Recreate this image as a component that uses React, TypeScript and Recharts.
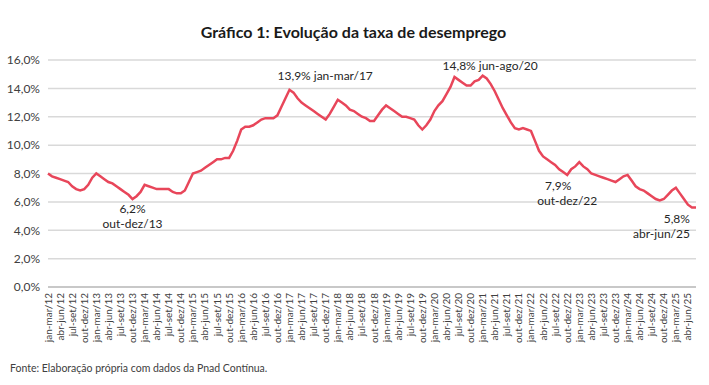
import React from 'react';
import { LineChart, Line, XAxis, YAxis, CartesianGrid } from 'recharts';

// Taxa de desocupação (trimestres móveis), %
const rate2012 = [8.0, 7.8, 7.7, 7.6, 7.5, 7.4, 7.1, 6.9, 6.8, 6.9, 7.2, 7.7];
const rate2013 = [8.0, 7.8, 7.6, 7.4, 7.3, 7.1, 6.9, 6.7, 6.5, 6.2, 6.4, 6.7];
const rate2014 = [7.2, 7.1, 7.0, 6.9, 6.9, 6.9, 6.9, 6.7, 6.6, 6.6, 6.8, 7.4];
const rate2015 = [8.0, 8.1, 8.2, 8.4, 8.6, 8.8, 9.0, 9.0, 9.1, 9.1, 9.6, 10.3];
const rate2016 = [11.1, 11.3, 11.3, 11.4, 11.6, 11.8, 11.9, 11.9, 11.9, 12.1, 12.7, 13.3];
const rate2017 = [13.9, 13.7, 13.3, 13.0, 12.8, 12.6, 12.4, 12.2, 12.0, 11.8, 12.2, 12.7];
const rate2018 = [13.2, 13.0, 12.8, 12.5, 12.4, 12.2, 12.0, 11.9, 11.7, 11.7, 12.1, 12.5];
const rate2019 = [12.8, 12.6, 12.4, 12.2, 12.0, 12.0, 11.9, 11.8, 11.4, 11.1, 11.4, 11.8];
const rate2020 = [12.4, 12.8, 13.1, 13.6, 14.1, 14.8, 14.6, 14.4, 14.2, 14.2, 14.5, 14.6];
const rate2021 = [14.9, 14.7, 14.3, 13.8, 13.2, 12.6, 12.1, 11.6, 11.2, 11.1, 11.2, 11.1];
const rate2022 = [11.0, 10.3, 9.6, 9.2, 9.0, 8.8, 8.6, 8.3, 8.1, 7.9, 8.3, 8.5];
const rate2023 = [8.8, 8.5, 8.3, 8.0, 7.9, 7.8, 7.7, 7.6, 7.5, 7.4, 7.6, 7.8];
const rate2024 = [7.9, 7.5, 7.1, 6.9, 6.8, 6.6, 6.4, 6.2, 6.1, 6.2, 6.5, 6.8];
const rate2025 = [7.0, 6.6, 6.2, 5.8, 5.6, 5.6];

const years = [2012, 2013, 2014, 2015, 2016, 2017, 2018, 2019, 2020, 2021, 2022, 2023, 2024, 2025];
const ratesByYear = [rate2012, rate2013, rate2014, rate2015, rate2016, rate2017, rate2018,
    rate2019, rate2020, rate2021, rate2022, rate2023, rate2024, rate2025];
const months = ['jan', 'fev', 'mar', 'abr', 'mai', 'jun', 'jul', 'ago', 'set', 'out', 'nov', 'dez'];
const yTicks = [0, 2, 4, 6, 8, 10, 12, 14, 16];

// trimestre móvel: mês inicial + 2, ano do mês final
const quarterLabel = (year: number, m: number) => {
    const endYear = m + 2 > 11 ? year + 1 : year;
    return `${months[m]}-${months[(m + 2) % 12]}/${String(endYear).slice(2)}`;
};

const data = years.flatMap((year, i) =>
    ratesByYear[i].map((v, m) => ({ periodo: quarterLabel(year, m), taxa: v }))
);

// destaques no gráfico
const notes: Record<string, { lines: string[]; dx: number[]; dy: number[]; anchor: string }> = {
    'out-dez/13': { lines: ['6,2%', 'out-dez/13'], dx: [0, 0], dy: [14, 29], anchor: 'middle' },
    'jan-mar/17': { lines: ['13,9% jan-mar/17'], dx: [-12], dy: [-10], anchor: 'start' },
    'jun-ago/20': { lines: ['14,8% jun-ago/20'], dx: [-12], dy: [-7], anchor: 'start' },
    'out-dez/22': { lines: ['7,9%', 'out-dez/22'], dx: [-9, 0], dy: [15, 30], anchor: 'middle' },
    'abr-jun/25': { lines: ['5,8%', 'abr-jun/25'], dx: [2, 2], dy: [18, 33], anchor: 'end' },
};

const FONT = 'Lato, "Open Sans", sans-serif';
const LINE_COLOR = '#e8465a';

const NoteLabel = (props: any) => {
    const { x, y, index } = props;
    const note = notes[data[index]?.periodo];
    if (!note) return null;
    return (
        <g>
            {note.lines.map((t, i) => (
                <text
                    key={i}
                    x={x + note.dx[i]}
                    y={y + note.dy[i]}
                    textAnchor={note.anchor}
                    fontSize={12}
                    fontFamily={FONT}
                    fill="#262626"
                >
                    {t}
                </text>
            ))}
        </g>
    );
};

const XTick = ({ x, y, payload }: any) => {
    const yy = y - 2;
    return (
        <text
            x={x}
            y={yy}
            dy="0.35em"
            transform={`rotate(-90, ${x}, ${yy})`}
            textAnchor="end"
            fontSize={10}
            fontFamily={FONT}
            fill="#404040"
        >
            {payload.value}
        </text>
    );
};

export default function App() {
    return (
        <div style={{
            position: 'absolute',
            left: 0,
            top: 0,
            width: 709,
            height: 385,
            background: '#fff',
            fontFamily: FONT,
        }}>
            <div style={{
                position: 'absolute',
                left: 0,
                top: 22,
                width: 707,
                textAlign: 'center',
                fontSize: 16,
                fontWeight: 700,
                color: '#1a1a1a',
            }}>
                Gráfico 1: Evolução da taxa de desemprego
            </div>
            <LineChart
                width={709}
                height={385}
                data={data}
                margin={{ top: 60, right: 13, left: 0, bottom: 36 }}
            >
                <CartesianGrid vertical={false} stroke="#d9d9d9" strokeWidth={1.5} />
                <XAxis
                    dataKey="periodo"
                    interval={2}
                    height={62}
                    axisLine={{ stroke: '#bfbfbf', strokeWidth: 1.5 }}
                    tickLine={false}
                    tick={<XTick />}
                />
                <YAxis
                    width={48}
                    domain={[0, 16]}
                    ticks={yTicks}
                    axisLine={false}
                    tickLine={false}
                    tick={{ fontSize: 12, fontFamily: FONT, fill: '#404040' }}
                    tickFormatter={(v: number) => `${v.toFixed(1).replace('.', ',')}%`}
                />
                <Line
                    type="linear"
                    dataKey="taxa"
                    stroke={LINE_COLOR}
                    strokeWidth={2.5}
                    dot={false}
                    label={<NoteLabel />}
                    isAnimationActive={false}
                />
            </LineChart>
            <div style={{
                position: 'absolute',
                left: 10,
                top: 362,
                fontSize: 10.5,
                color: '#404040',
            }}>
                Fonte: Elaboração própria com dados da Pnad Contínua.
            </div>
        </div>
    );
}
